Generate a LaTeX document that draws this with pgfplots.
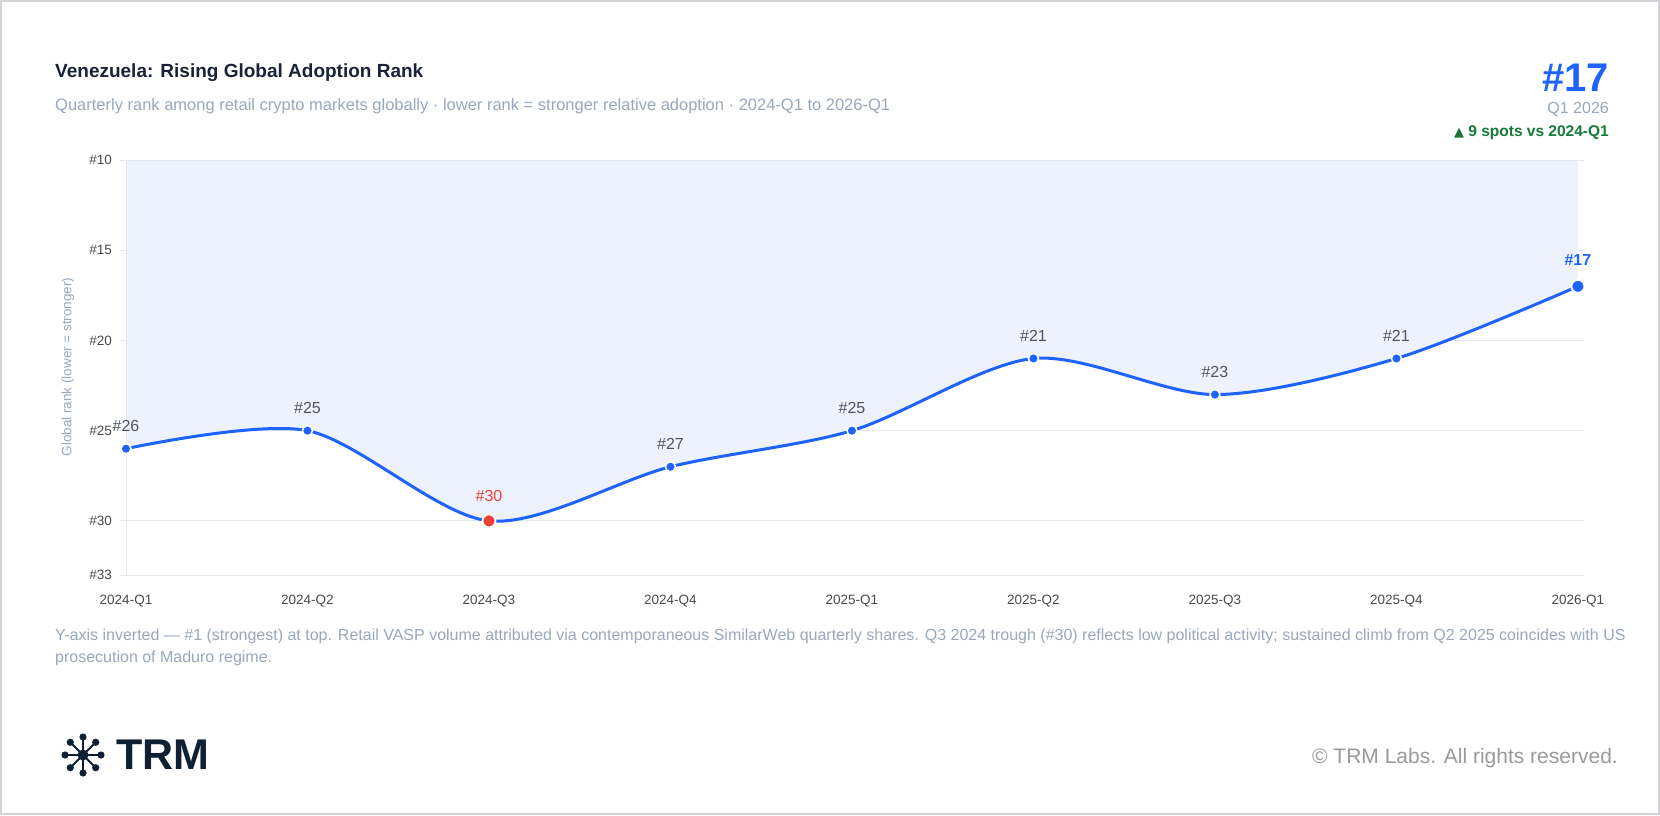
\documentclass[border=0pt]{standalone}
\usepackage{fontspec}
\setmainfont{Liberation Sans}
\newfontfamily\symfont{DejaVu Sans}
\usepackage{pgfplots}
\usepackage{pgfplotstable}
\pgfplotsset{compat=1.18}

\definecolor{navy}{HTML}{1A2238}
\definecolor{subc}{HTML}{9AA8BD}
\definecolor{tickc}{HTML}{4A4A4A}
\definecolor{gridc}{HTML}{E2E7F0}
\definecolor{fillc}{HTML}{EDF2FD}
\definecolor{linec}{HTML}{1F63FF}
\definecolor{redc}{HTML}{EF4136}
\definecolor{greenc}{HTML}{157A3A}
\definecolor{copyc}{HTML}{9A9A9A}
\definecolor{borderc}{HTML}{D3D3D8}
\definecolor{labc}{HTML}{4B5563}
\definecolor{logoc}{HTML}{0F2033}

\pgfplotstableread{
x y
0 26
1 25
2 30
3 27
4 25
5 21
6 23
7 21
8 17
}\rankdata

\pgfplotstableread{
x y
0 26
1 25
3 27
4 25
5 21
6 23
7 21
}\midpts

\pgfplotstableread{
x y
2 30
}\lowpt

\pgfplotstableread{
x y
8 17
}\lastpt

\begin{document}
\begin{tikzpicture}[x=1pt,y=1pt]
\fill[white] (0,0) rectangle (1660,815);
\draw[borderc, line width=2pt] (1,1) rectangle (1659,814);

% title block
\node[anchor=west, inner sep=0, text=navy, font=\fontsize{19}{22}\selectfont\bfseries] at (55,742) {Venezuela: Rising Global Adoption Rank};
\node[anchor=west, inner sep=0, text=subc, font=\fontsize{16.5}{19}\selectfont] at (55,709) {Quarterly rank among retail crypto markets globally · lower rank = stronger relative adoption · 2024-Q1 to 2026-Q1};

% KPI block
\node[anchor=east, inner sep=0, text=linec, font=\fontsize{40}{44}\selectfont\bfseries] at (1609,737) {\#17};
\node[anchor=east, inner sep=0, text=subc, font=\fontsize{16}{18}\selectfont] at (1609,706) {Q1 2026};
\node[anchor=east, inner sep=0, text=greenc, font=\fontsize{15.5}{18}\selectfont\bfseries] at (1609,682) {{\symfont\fontsize{13}{15}\selectfont ▲}\ 9 spots vs 2024-Q1};

% y label
\node[rotate=90, inner sep=0, text=subc, font=\fontsize{13.5}{16}\selectfont] at (68,448) {Global rank (lower = stronger)};

\begin{axis}[
  at={(126pt,240pt)}, anchor=south west,
  scale only axis, width=1452pt, height=415pt,
  xmin=0, xmax=8, ymin=10, ymax=33, y dir=reverse,
  /pgf/number format/assume math mode=true,
  axis line style={draw=none},
  ytick={10,15,20,25,30,33},
  yticklabels={\#10,\#15,\#20,\#25,\#30,\#33},
  xtick={0,1,2,3,4,5,6,7,8},
  xticklabels={2024-Q1,2024-Q2,2024-Q3,2024-Q4,2025-Q1,2025-Q2,2025-Q3,2025-Q4,2026-Q1},
  ymajorgrids, grid style={gridc, line width=1pt},
  xtick style={draw=none},
  ytick style={gridc, line width=1pt},
  tick align=outside, major tick length=6pt,
  yticklabel style={font=\fontsize{13.5}{16}\selectfont, text=tickc, inner sep=0, anchor=east, xshift=-8pt},
  xticklabel style={font=\fontsize{13.5}{16}\selectfont, text=tickc, inner sep=0, yshift=-14pt},
  clip=true,
]
\addplot[draw=none, fill=fillc, smooth] table {\rankdata} \closedcycle;
\draw[gridc, line width=1pt] (axis cs:0,10) -- (axis cs:0,33) -- (axis cs:8,33);
\draw[gridc, line width=1pt] (axis cs:0,10) -- (axis cs:8,10);
\addplot[linec, line width=3pt, smooth] table {\rankdata};
\addplot[only marks, mark=*, mark size=5pt, mark options={fill=linec, draw=white, line width=1.5pt},
  point meta=y, nodes near coords={\#\pgfmathprintnumber{\pgfplotspointmeta}},
  nodes near coords style={anchor=center, yshift=23pt, font=\fontsize{16}{18}\selectfont, text=labc}]
  table {\midpts};
\addplot[only marks, mark=*, mark size=6.5pt, mark options={fill=redc, draw=white, line width=1.8pt},
  point meta=y, nodes near coords={\#\pgfmathprintnumber{\pgfplotspointmeta}},
  nodes near coords style={anchor=center, yshift=25pt, font=\fontsize{16}{18}\selectfont, text=redc}]
  table {\lowpt};
\addplot[only marks, mark=*, mark size=6.5pt, mark options={fill=linec, draw=white, line width=1.8pt},
  point meta=y, nodes near coords={\#\pgfmathprintnumber{\pgfplotspointmeta}},
  nodes near coords style={anchor=center, yshift=26pt, font=\fontsize{16}{18}\selectfont\bfseries, text=linec}]
  table {\lastpt};
\end{axis}

% footnote
\node[anchor=west, inner sep=0, text=subc, font=\fontsize{16}{19}\selectfont] at (55,179) {Y-axis inverted — \#1 (strongest) at top. Retail VASP volume attributed via contemporaneous SimilarWeb quarterly shares. Q3 2024 trough (\#30) reflects low political activity; sustained climb from Q2 2025 coincides with US};
\node[anchor=west, inner sep=0, text=subc, font=\fontsize{16}{19}\selectfont] at (55,157) {prosecution of Maduro regime.};

% logo
\foreach \a in {0,45,...,315} {
  \draw[logoc, line width=2pt] (83,60) -- ++(\a:18);
  \fill[logoc] (83,60) ++(\a:18) circle (3.6);
}
\fill[logoc] (83,60) circle (5.5);
\node[anchor=west, inner sep=0, text=logoc, font=\fontsize{43}{46}\selectfont\bfseries] at (116,60) {TRM};

\node[anchor=east, inner sep=0, text=copyc, font=\fontsize{21}{24}\selectfont] at (1618,57) {© TRM Labs. All rights reserved.};
\end{tikzpicture}
\end{document}
